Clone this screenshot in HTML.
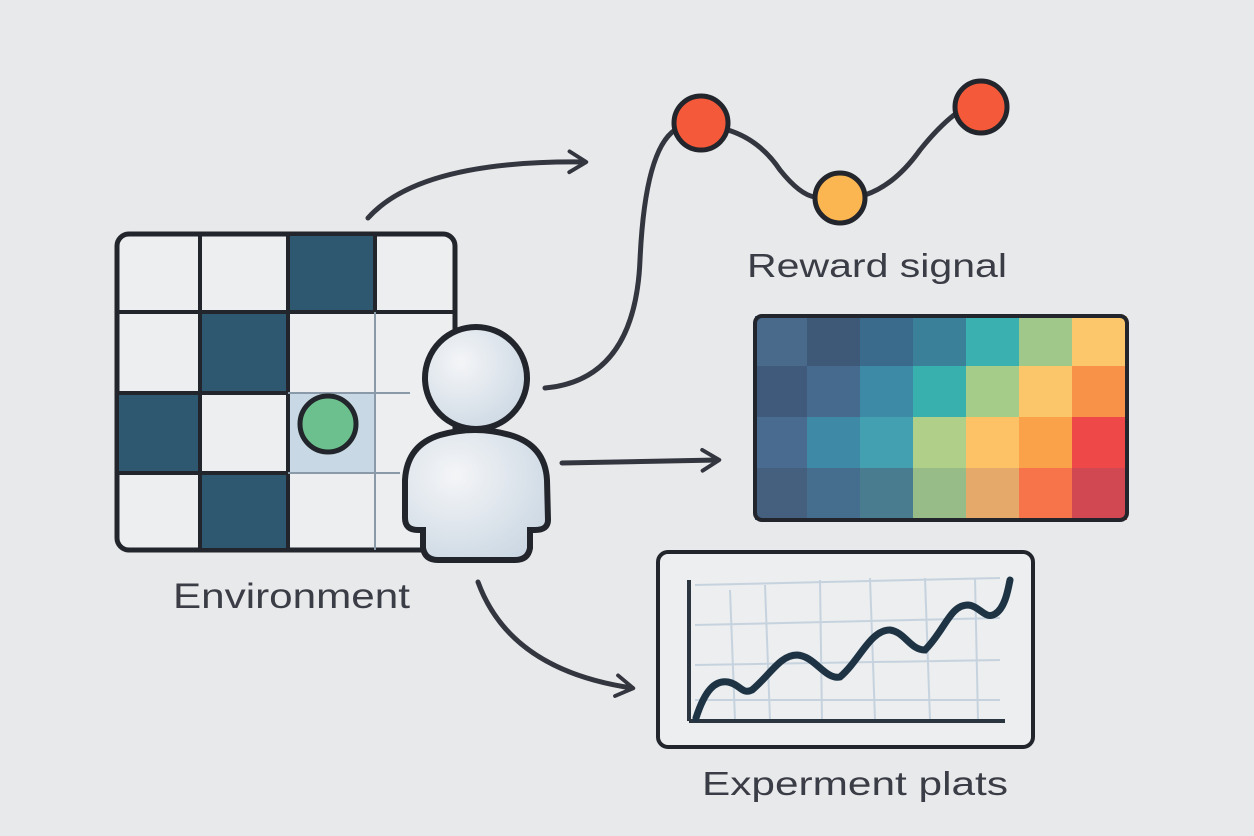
<!DOCTYPE html>
<html><head><meta charset="utf-8"><style>
html,body{margin:0;padding:0;background:#e8e9eb;}
svg{display:block}
text{font-family:"Liberation Sans",sans-serif;fill:#3a3d45}
</style></head><body>
<svg width="1254" height="836" viewBox="0 0 1254 836" xmlns="http://www.w3.org/2000/svg">
<defs>
<marker id="ah" viewBox="0 0 20 20" refX="15" refY="10" markerWidth="26" markerHeight="26" markerUnits="userSpaceOnUse" orient="auto">
<path d="M3,2 L16,10 L3,18" fill="none" stroke="#33363f" stroke-width="3" stroke-linecap="round" stroke-linejoin="round"/>
</marker>
<radialGradient id="pg" cx="0.35" cy="0.35" r="0.8"><stop offset="0" stop-color="#f4f5f7"/><stop offset="1" stop-color="#c9d6e2"/></radialGradient>
</defs>
<rect width="1254" height="836" fill="#e8e9eb"/>
<!-- grid -->
<rect x="117" y="234" width="338" height="316" rx="12" fill="#eceef0" stroke="#22252b" stroke-width="5"/>
<g fill="#2e5870">
<rect x="289" y="236" width="86" height="76"/>
<rect x="201" y="314" width="86" height="78"/>
<rect x="119" y="394" width="80" height="78"/>
<rect x="201" y="474" width="86" height="74"/>
</g>
<rect x="289" y="394" width="86" height="78" fill="#c8d8e4"/>
<g stroke="#22252b" stroke-width="4">
<line x1="200" y1="234" x2="200" y2="550"/>
<line x1="288" y1="234" x2="288" y2="550"/>
<line x1="375" y1="234" x2="375" y2="312"/>
<line x1="117" y1="312" x2="455" y2="312"/>
<line x1="117" y1="393" x2="288" y2="393"/>
<line x1="117" y1="473" x2="288" y2="473"/>
</g>
<g stroke="#8a9aa8" stroke-width="2">
<line x1="375" y1="312" x2="375" y2="550"/>
<line x1="288" y1="393" x2="410" y2="393"/>
<line x1="288" y1="473" x2="400" y2="473"/>
</g>
<circle cx="328" cy="424" r="28" fill="#6cc08e" stroke="#22252b" stroke-width="5"/>
<!-- person -->
<path d="M440,435 Q475,425 510,435 Q545,445 547,480 L548,520 Q548,530 535,530 L530,530 L530,548 Q528,560 515,560 L438,560 Q425,560 423,548 L423,530 L418,530 Q405,530 405,518 L405,480 Q407,445 440,435 Z" fill="url(#pg)" stroke="#22252b" stroke-width="6"/>
<circle cx="476" cy="378" r="51" fill="url(#pg)" stroke="#22252b" stroke-width="6"/>
<text x="173" y="608" font-size="35" textLength="237" lengthAdjust="spacingAndGlyphs">Environment</text>
<!-- arrows -->
<g fill="none" stroke="#33363f" stroke-width="5" stroke-linecap="round">
<path d="M368,218 Q420,160 585,162" marker-end="url(#ah)"/>
<path d="M545,388 Q635,380 640,260 Q645,150 675,130"/>
<path d="M562,463 L718,460" marker-end="url(#ah)"/>
<path d="M478,582 Q510,670 632,688" marker-end="url(#ah)"/>
<path d="M728,130 Q760,140 780,170 Q800,195 815,197"/>
<path d="M865,195 Q895,185 920,150 Q940,125 958,112"/>
</g>
<circle cx="701" cy="123" r="27" fill="#f45a3a" stroke="#22252b" stroke-width="5"/>
<circle cx="840" cy="198" r="25" fill="#fbb652" stroke="#22252b" stroke-width="5"/>
<circle cx="981" cy="107" r="26" fill="#f45a3a" stroke="#22252b" stroke-width="5"/>
<text x="747" y="277" font-size="33" textLength="260" lengthAdjust="spacingAndGlyphs">Reward signal</text>
<!-- heatmap -->
<g>
<rect x="755" y="316" width="52" height="50" fill="#4a6a8c"/><rect x="807" y="316" width="53" height="50" fill="#3e5878"/><rect x="860" y="316" width="53" height="50" fill="#3a6b8c"/><rect x="913" y="316" width="53" height="50" fill="#3a8098"/><rect x="966" y="316" width="53" height="50" fill="#3ab0b0"/><rect x="1019" y="316" width="53" height="50" fill="#a0c88a"/><rect x="1072" y="316" width="55" height="50" fill="#fbc76a"/>
<rect x="755" y="366" width="52" height="51" fill="#3f5a7a"/><rect x="807" y="366" width="53" height="51" fill="#456a8e"/><rect x="860" y="366" width="53" height="51" fill="#3d8aa6"/><rect x="913" y="366" width="53" height="51" fill="#38b0ae"/><rect x="966" y="366" width="53" height="51" fill="#a6cc8a"/><rect x="1019" y="366" width="53" height="51" fill="#fbc56a"/><rect x="1072" y="366" width="55" height="51" fill="#f89248"/>
<rect x="755" y="417" width="52" height="51" fill="#4a6b90"/><rect x="807" y="417" width="53" height="51" fill="#3e8aa6"/><rect x="860" y="417" width="53" height="51" fill="#42a0b0"/><rect x="913" y="417" width="53" height="51" fill="#b0d08a"/><rect x="966" y="417" width="53" height="51" fill="#fcc265"/><rect x="1019" y="417" width="53" height="51" fill="#f9a24a"/><rect x="1072" y="417" width="55" height="51" fill="#ee4848"/>
<rect x="755" y="468" width="52" height="52" fill="#44607e"/><rect x="807" y="468" width="53" height="52" fill="#456e8e"/><rect x="860" y="468" width="53" height="52" fill="#4a7c90"/><rect x="913" y="468" width="53" height="52" fill="#98bc88"/><rect x="966" y="468" width="53" height="52" fill="#e5aa6a"/><rect x="1019" y="468" width="53" height="52" fill="#f7744a"/><rect x="1072" y="468" width="55" height="52" fill="#d24852"/>
</g>
<rect x="755" y="316" width="372" height="204" rx="7" fill="none" stroke="#22252b" stroke-width="4"/>
<!-- plot -->
<rect x="658" y="552" width="375" height="195" rx="10" fill="#eceef0" stroke="#22252b" stroke-width="4"/>
<g stroke="#c6d3de" stroke-width="2" fill="none">
<path d="M695,585 L1000,578"/><path d="M695,625 L1000,618"/><path d="M695,665 L1000,660"/><path d="M695,700 L1000,700"/>
<path d="M730,590 L735,720"/><path d="M765,585 L770,720"/><path d="M820,580 L822,720"/><path d="M870,578 L875,720"/><path d="M925,578 L930,720"/><path d="M975,578 L978,720"/>
</g>
<g stroke="#2a3540" stroke-width="4" fill="none">
<line x1="689" y1="580" x2="689" y2="721"/><line x1="689" y1="721" x2="1005" y2="721"/>
</g>
<path d="M696,718 C705,690 715,680 728,682 C740,684 742,695 752,690 C770,675 780,655 797,655 C815,656 825,680 840,677 C860,660 870,630 890,630 C905,632 910,650 925,650 C945,630 950,605 968,605 C980,606 985,620 995,614 C1005,608 1008,590 1010,580" fill="none" stroke="#1e3444" stroke-width="7" stroke-linecap="round"/>
<text x="702" y="795" font-size="33" textLength="306" lengthAdjust="spacingAndGlyphs">Experment plats</text>
</svg>
</body></html>
